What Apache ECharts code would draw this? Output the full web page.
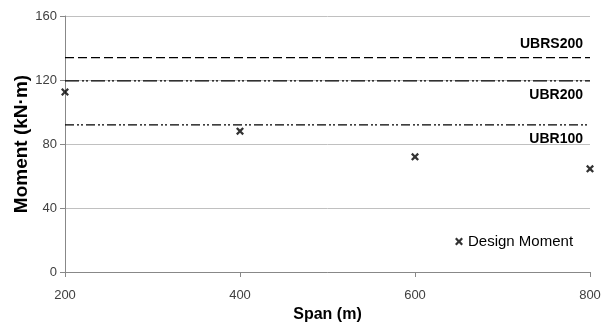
<!DOCTYPE html>
<html>
<head>
<meta charset="utf-8">
<script src="https://cdn.jsdelivr.net/npm/echarts@6/dist/echarts.min.js"></script>
<style>
  html, body { margin: 0; padding: 0; background: #fff; }
  #chart { width: 610px; height: 327px; }
</style>
</head>
<body>
<div id="chart"></div>
<script>
// design points
const spans = [200, 400, 600, 800];
const designMoment = [112.5, 88, 72, 64.5];

// capacity lines (constant across span)
const capNames = ['UBRS200', 'UBR200', 'UBR100'];
const capValues = [134, 119.5, 92];
const capDash = [[9, 4], [14, 3, 2, 2, 2, 3], [9, 3, 2, 2, 2, 3]];

const yTicks = [0, 40, 80, 120, 160];

const FONT = '"Liberation Sans", Arial, sans-serif';
// bold X marker
const xMark = 'path://M0,2L2,0L5,3L8,0L10,2L7,5L10,8L8,10L5,7L2,10L0,8L3,5Z';

const chart = echarts.init(document.getElementById('chart'));

const capSeries = capNames.map((name, i) => ({
    name: name,
    type: 'line',
    data: [[spans[0], capValues[i]], [spans[spans.length - 1], capValues[i]]],
    symbol: 'none',
    silent: true,
    lineStyle: { color: '#000', width: 1.3, type: capDash[i] },
    markPoint: {
        symbol: 'circle',
        symbolSize: 0,
        silent: true,
        data: [{ coord: [spans[spans.length - 1], capValues[i]] }],
        label: {
            show: true,
            formatter: name,
            position: i === 0 ? 'top' : 'bottom',
            align: 'right',
            offset: [-7, i === 0 ? -1 : 2],
            fontFamily: FONT, fontWeight: 'bold', fontSize: 14, color: '#000'
        }
    }
}));

const option = {
    animation: false,
    grid: { left: 65, right: 20, top: 16, bottom: 55, outerBoundsMode: 'none' },
    legend: {
        data: [{ name: 'Design Moment', icon: xMark }],
        left: 450, top: 229,
        itemWidth: 8, itemHeight: 8, itemGap: 5,
        textStyle: { fontFamily: FONT, fontSize: 15, color: '#000' }
    },
    xAxis: {
        type: 'value', min: 200, max: 800, interval: 200,
        name: 'Span (m)', nameLocation: 'middle', nameGap: 34,
        nameTextStyle: { fontFamily: FONT, fontWeight: 'bold', fontSize: 16, color: '#000' },
        axisLine: { show: true, lineStyle: { color: '#888' } },
        axisTick: { show: true, length: 5, lineStyle: { color: '#888' } },
        axisLabel: { fontFamily: FONT, fontSize: 13, color: '#404040', margin: 17 },
        splitLine: { show: false }
    },
    yAxis: {
        type: 'value', min: yTicks[0], max: yTicks[yTicks.length - 1], interval: 40,
        name: 'Moment (kN·m)', nameLocation: 'middle', nameGap: 34, nameRotate: 90,
        nameMoveOverlap: false,
        nameTextStyle: { fontFamily: FONT, fontWeight: 'bold', fontSize: 19, color: '#000' },
        axisLine: { show: true, lineStyle: { color: '#888' } },
        axisTick: { show: true, length: 5, lineStyle: { color: '#888' } },
        axisLabel: { fontFamily: FONT, fontSize: 13, color: '#404040', margin: 8 },
        splitLine: { show: true, lineStyle: { color: '#c0c0c0', width: 1 } }
    },
    series: [
        ...capSeries,
        {
            name: 'Design Moment',
            type: 'scatter',
            data: spans.map((s, i) => [s, designMoment[i]]),
            symbol: xMark,
            symbolSize: 8,
            itemStyle: { color: '#000' },
            clip: false
        }
    ]
};

chart.setOption(option);
</script>
</body>
</html>
